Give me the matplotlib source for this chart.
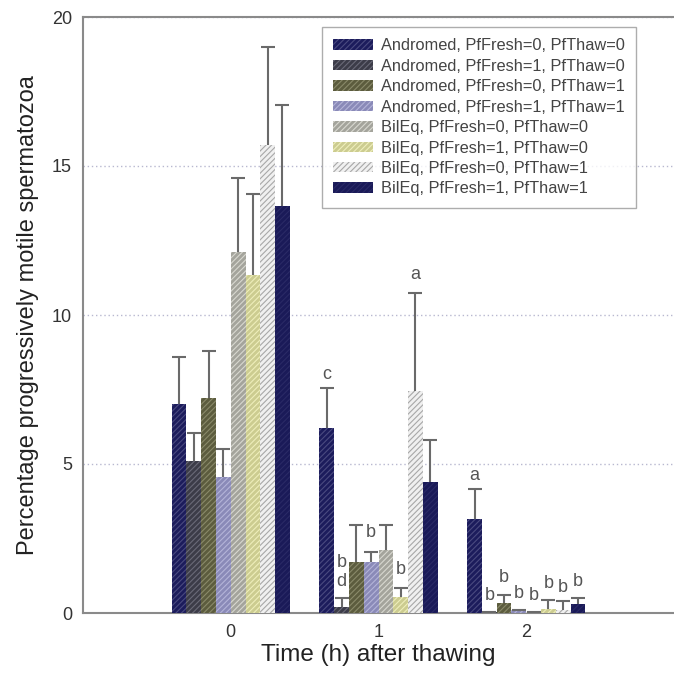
import numpy as np
import matplotlib
matplotlib.use("Agg")
import matplotlib.pyplot as plt

plt.rcParams['font.family'] = ['Liberation Sans', 'DejaVu Sans']
plt.rcParams['hatch.linewidth'] = 0.8

times = [0, 1, 2]
series = [
    "Andromed, PfFresh=0, PfThaw=0",
    "Andromed, PfFresh=1, PfThaw=0",
    "Andromed, PfFresh=0, PfThaw=1",
    "Andromed, PfFresh=1, PfThaw=1",
    "BilEq, PfFresh=0, PfThaw=0",
    "BilEq, PfFresh=1, PfThaw=0",
    "BilEq, PfFresh=0, PfThaw=1",
    "BilEq, PfFresh=1, PfThaw=1",
]
# values per series for time 0, 1, 2
means = [
    [7.0, 6.2, 3.15],
    [5.1, 0.2, 0.05],
    [7.2, 1.7, 0.35],
    [4.55, 1.7, 0.1],
    [12.1, 2.1, 0.02],
    [11.35, 0.55, 0.15],
    [15.7, 7.45, 0.1],
    [13.65, 4.4, 0.3],
]
err_top = [
    [8.6, 7.55, 4.15],
    [6.05, 0.5, 0.05],
    [8.8, 2.95, 0.62],
    [5.5, 2.05, 0.1],
    [14.6, 2.95, 0.02],
    [14.05, 0.85, 0.42],
    [19.0, 10.75, 0.4],
    [17.05, 5.8, 0.5],
]
# significance letters: (time, series index, letter, y)
letters = [
    (1, 0, "c", 8.0), (1, 1, "b", 1.7), (1, 1, "d", 1.05), (1, 3, "b", 2.7),
    (1, 5, "b", 1.45), (1, 6, "a", 11.35),
    (2, 0, "a", 4.6), (2, 1, "b", 0.6), (2, 2, "b", 1.2), (2, 3, "b", 0.67),
    (2, 4, "b", 0.6), (2, 5, "b", 1.0), (2, 6, "b", 0.87), (2, 7, "b", 1.05),
]

face = ['#1c1c5c', '#3c3c48', '#5c5c3e', '#8a8ab8', '#a4a49c', '#cccc90', '#f0f0f0', '#1a1a58']
hatchc = ['#4a4a80', '#6a6a78', '#8a8a6a', '#b4b4d8', '#d8d8d0', '#eeeebb', '#a8a8a8', '#2a2a66']

fig = plt.figure(figsize=(6.74, 6.73), dpi=100)
ax = fig.add_axes([83/674, 60/673, 1 - 83/674, (613-17)/673])

w = 0.1
x = np.array(times, dtype=float)
for i, name in enumerate(series):
    pos = x + (i - 3.5) * w
    m = np.array(means[i])
    e = np.array(err_top[i]) - m
    ax.bar(pos, m, width=w, color=face[i], edgecolor=hatchc[i], linewidth=0,
           hatch='//////', label=name, zorder=3)
    eb = ax.errorbar(pos, m, yerr=[np.zeros_like(e), e], fmt='none', ecolor='#6a6a6a',
                     elinewidth=1.5, capsize=5, capthick=1.5, zorder=4)
    caps = eb[1]
    if len(caps) >= 2:
        caps[0].set_visible(False)

for t, i, s, yv in letters:
    ax.text(t + (i - 3.5) * w, yv, s, ha='center', va='center', fontsize=13,
            color='#555555', zorder=5)

ax.set_xlim(-1, 3)
ax.set_ylim(0, 20)
ax.set_xticks(times)
ax.set_yticks([0, 5, 10, 15, 20])
ax.tick_params(length=0, labelsize=13, colors='#333333', pad=8)
ax.yaxis.grid(True, linestyle=(0, (1, 2)), color='#b8b8d0', linewidth=1, zorder=0)
for sp in ['left', 'bottom', 'top']:
    ax.spines[sp].set_color('#8a8a8a')
    ax.spines[sp].set_linewidth(1.5)
ax.spines['right'].set_visible(False)
ax.set_xlabel("Time (h) after thawing", fontsize=17.5, color='#222222', labelpad=2)
ax.set_ylabel("Percentage progressively motile spermatozoa", fontsize=17,
              color='#222222', labelpad=9)

leg = ax.legend(loc='upper left', bbox_to_anchor=(322/674, 1 - 27/673),
                bbox_transform=fig.transFigure, fontsize=11.8,
                frameon=True, fancybox=False, edgecolor='#999999',
                handlelength=2.4, handleheight=0.6, labelspacing=0.33,
                borderpad=0.7, handletextpad=0.5, borderaxespad=0)
leg.get_frame().set_linewidth(1.0)
for t in leg.get_texts():
    t.set_color('#444444')

fig.savefig("out.png", dpi=100)
